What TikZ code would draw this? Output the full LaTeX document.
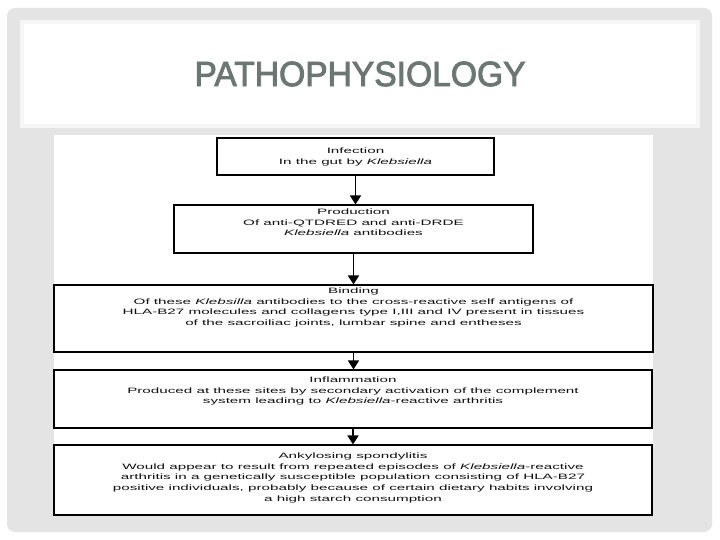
\documentclass[tikz,border=0pt]{standalone}
\usepackage{fontspec}
\setmainfont{Liberation Sans}
\newfontfamily\bodyfont[FakeStretch=1.95]{Liberation Sans}
\newfontfamily\titlefont[FakeBold=2.5,FakeStretch=0.96]{Liberation Sans}
\usetikzlibrary{arrows.meta,calc}
\definecolor{framegrey}{HTML}{E4E4E4}
\definecolor{offwhite}{HTML}{F6F6F6}
\definecolor{titlecol}{HTML}{6C7672}
\definecolor{txtcol}{HTML}{111111}
\tikzset{
  flowbox/.style={draw=black, line width=1.1pt, fill=white, inner sep=0pt},
  flowtxt/.style={inner sep=0pt, anchor=north, align=center, text=txtcol,
    font=\bodyfont\fontsize{7.8}{10.8}\selectfont},
  flowarrow/.style={line width=1.7pt, -{Triangle[length=9pt,width=11pt]}},
}
\begin{document}
\begin{tikzpicture}[x=1pt,y=-1pt]
\useasboundingbox (0,0) rectangle (720,540);
\fill[white] (0,0) rectangle (720,540);
\fill[framegrey, rounded corners=8pt] (7,8) rectangle (712,532);
\fill[offwhite] (20,20) rectangle (700,128);
\fill[white] (24,24) rectangle (696,124);
\node[text=titlecol, font=\titlefont\fontsize{35}{38}\selectfont, inner sep=0pt] (title) at (360,74) {PATHOPHYSIOLOGY};
\fill[white] (54,135) rectangle (653,516);

\node[flowbox, minimum width=277pt, minimum height=37pt] (b1) at (355.5,156.5) {};
\node[flowbox, minimum width=359pt, minimum height=48pt] (b2) at (353.5,229) {};
\node[flowbox, minimum width=599pt, minimum height=67pt] (b3) at (353.5,318.5) {};
\node[flowbox, minimum width=598pt, minimum height=58pt] (b4) at (353,399) {};
\node[flowbox, minimum width=598pt, minimum height=70pt] (b5) at (353,480) {};

\node[flowtxt] (t1) at ($(b1.north)+(0,10)$) {Infection\\In the gut by \textit{Klebsiella}};
\node[flowtxt] (t2) at ($(b2.north)+(0,4)$) {Production\\Of anti-QTDRED and anti-DRDE\\\textit{Klebsiella} antibodies};
\node[flowtxt] (t3) at ($(b3.north)+(0,3)$) {Binding\\Of these \textit{Klebsilla} antibodies to the cross-reactive self antigens of\\HLA-B27 molecules and collagens type I,III and IV present in tissues\\of the sacroiliac joints, lumbar spine and entheses};
\node[flowtxt] (t4) at ($(b4.north)+(0,7)$) {Inflammation\\Produced at these sites by secondary activation of the complement\\system leading to \textit{Klebsiella}-reactive arthritis};
\node[flowtxt] (t5) at ($(b5.north)+(0,8)$) {Ankylosing spondylitis\\Would appear to result from repeated episodes of \textit{Klebsiella}-reactive\\arthritis in a genetically susceptible population consisting of HLA-B27\\positive individuals, probably because of certain dietary habits involving\\a high starch consumption};

\draw[flowarrow] (b1.south) -- (b1.south |- b2.north);
\draw[flowarrow] (b2.south) -- (b2.south |- b3.north);
\draw[flowarrow] (b3.south) -- (b3.south |- b4.north);
\draw[flowarrow] (b4.south) -- (b4.south |- b5.north);
\end{tikzpicture}
\end{document}
